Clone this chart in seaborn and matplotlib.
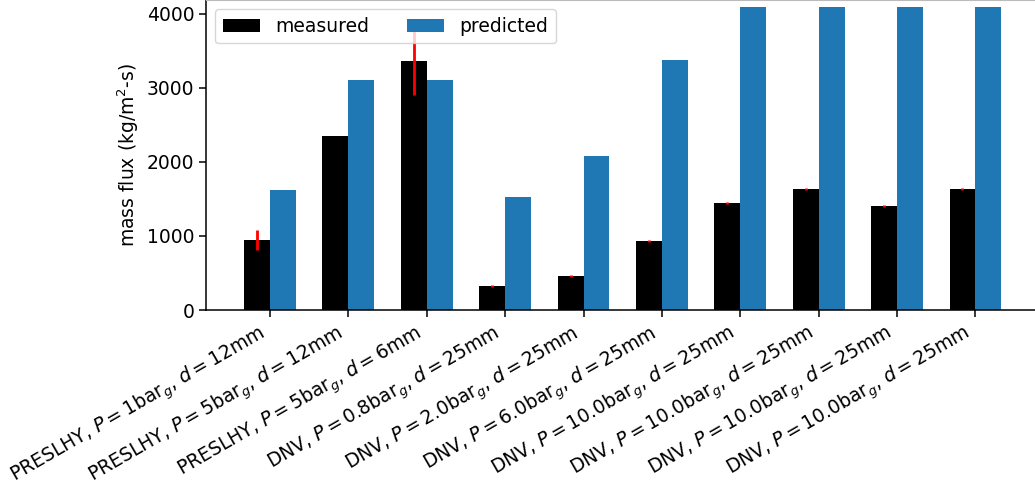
import numpy as np
import pandas as pd
import matplotlib
matplotlib.use('Agg')
import matplotlib.pyplot as plt
import seaborn as sns

# case labels (one per test)
labels = [
    r"PRESLHY, $P = 1\mathrm{bar}_g$, $d = 12\mathrm{mm}$",
    r"PRESLHY, $P = 5\mathrm{bar}_g$, $d = 12\mathrm{mm}$",
    r"PRESLHY, $P = 5\mathrm{bar}_g$, $d = 6\mathrm{mm}$",
    r"DNV, $P = 0.8\mathrm{bar}_g$, $d = 25\mathrm{mm}$",
    r"DNV, $P = 2.0\mathrm{bar}_g$, $d = 25\mathrm{mm}$",
    r"DNV, $P = 6.0\mathrm{bar}_g$, $d = 25\mathrm{mm}$",
    r"DNV, $P = 10.0\mathrm{bar}_g$, $d = 25\mathrm{mm}$",
    r"DNV, $P = 10.0\mathrm{bar}_g$, $d = 25\mathrm{mm}$",
    r"DNV, $P = 10.0\mathrm{bar}_g$, $d = 25\mathrm{mm}$",
    r"DNV, $P = 10.0\mathrm{bar}_g$, $d = 25\mathrm{mm}$",
]
measured = [946, 2351, 3365, 324, 455, 930, 1446, 1635, 1405, 1635]
measured_err = [140, 0, 460, 12, 12, 12, 15, 15, 15, 15]
predicted = [1620, 3112, 3112, 1527, 2080, 3380, 4095, 4095, 4095, 4095]

ymax = 4189

plt.rcParams["font.size"] = 13.5

# long table for seaborn
case_ids = [str(i) for i in range(len(labels))]
df = pd.DataFrame({
    "case": case_ids * 2,
    "kind": ["measured"] * len(labels) + ["predicted"] * len(labels),
    "flux": measured + predicted,
})

fig = plt.figure(figsize=(10.35, 4.9), dpi=100)
ax = fig.add_axes([206 / 1035, 180 / 490, 829 / 1035, 310 / 490])

bar_w = 0.66
sns.barplot(
    data=df, x="case", y="flux", hue="kind",
    palette={"measured": "black", "predicted": "#1f77b4"},
    width=bar_w, errorbar=None, saturation=1, ax=ax,
)

# measured error bars (red, no caps)
xpos = np.arange(len(labels)) - bar_w / 4
ax.errorbar(xpos, measured, yerr=measured_err, fmt="none",
            ecolor="red", elinewidth=2, capsize=0, zorder=3)

ax.set_xlim(-0.816, 9.76)
ax.set_ylim(0, ymax)
ax.set_yticks([0, 1000, 2000, 3000, 4000])
ax.set_xlabel("")
ax.set_ylabel("mass flux (kg/m$^2$-s)")
ax.set_xticks(range(len(labels)))
ax.set_xticklabels(labels, rotation=30, ha="right")
ax.spines["right"].set_visible(False)
ax.spines["top"].set_color("#bbbbbb")
ax.tick_params(length=5, width=1.1)
for s in ("left", "bottom"):
    ax.spines[s].set_linewidth(1.1)

ax.legend(ncol=2, loc="upper left")

fig.savefig("out.png", dpi=100)
plt.close(fig)
